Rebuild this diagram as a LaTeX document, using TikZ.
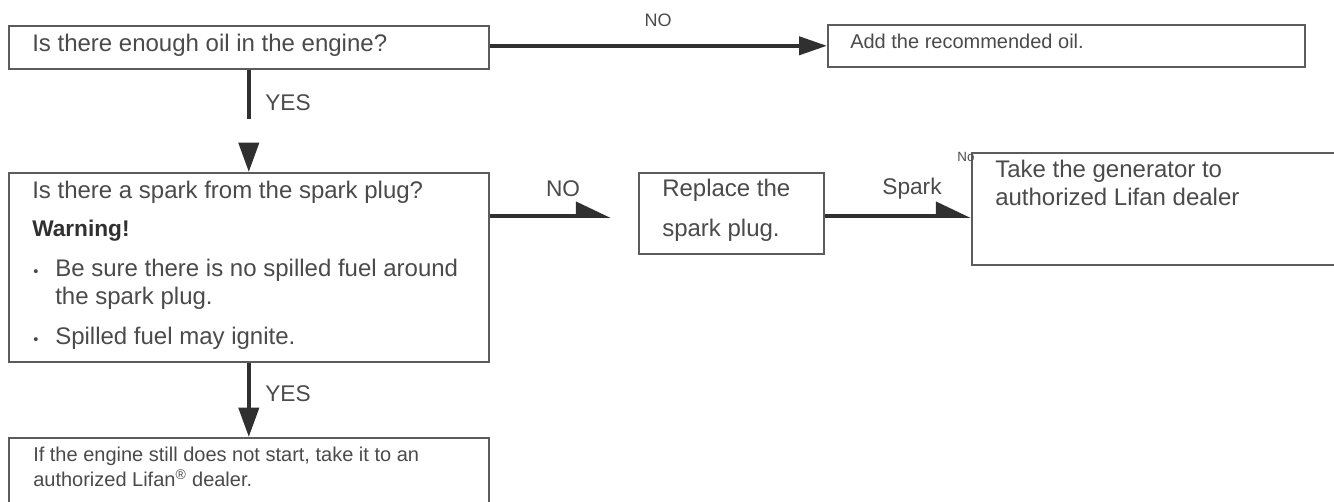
\documentclass[tikz,border=0pt]{standalone}
\usepackage{fontspec}
\setmainfont{Liberation Sans}
\usetikzlibrary{arrows.meta}

\definecolor{boxgray}{HTML}{5C5C5C}
\definecolor{txtgray}{HTML}{4A4A4A}
\definecolor{arrowdark}{HTML}{303030}

\begin{document}
\begin{tikzpicture}[x=0.75pt,y=-0.75pt,
  box/.style={draw=boxgray,line width=1.2pt,anchor=north west,inner sep=0pt},
  txt/.style={anchor=mid west,inner sep=0pt,text=txtgray,font=\fontsize{18}{20}\selectfont},
  smalltxt/.style={txt,font=\fontsize{15}{17}\selectfont},
  dot/.style={txt,font=\fontsize{11}{12}\selectfont},
  lbl/.style={anchor=mid,inner sep=0pt,text=txtgray,font=\fontsize{17}{19}\selectfont},
  flow/.style={draw=arrowdark,line width=3pt},
  downtip/.style={-{Triangle[length=22pt,width=15pt]}},
  sidetip/.style={-{Triangle[length=21pt,width=13.5pt]}},
  half/.style={-{Triangle[harpoon,length=23pt,width=21pt]}}]

\useasboundingbox (0,0) rectangle (1334,502);

% Draw the boxes
\node[box,minimum width=360pt,minimum height=32.25pt] (oil) at (8,25) {};
\node[box,minimum width=357.75pt,minimum height=31.5pt] (addoil) at (827,24) {};
\node[box,minimum width=360pt,minimum height=141.75pt] (spark) at (8,172) {};
\node[box,minimum width=138.75pt,minimum height=60.75pt] (plug) at (638,172) {};
\node[box,minimum width=280.5pt,minimum height=84pt] (dealer) at (971,152) {};
\node[box,minimum width=360pt,minimum height=62.25pt] (start) at (8,437) {};

% Texts in the boxes
\node[txt] (oiltxt) at (32,48) {Is there enough oil in the engine?};
\node[smalltxt] (addtxt) at (850,45) {Add the recommended oil.};
\node[txt] (sparktxt) at (32,195) {Is there a spark from the spark plug?};
\node[txt,text=arrowdark,font=\fontsize{17}{19}\selectfont\bfseries] (warn) at (32,233) {Warning!};
\node[dot] (dota) at (33,273) {\textbullet};
\node[txt] (fuela) at (55,273) {Be sure there is no spilled fuel around};
\node[txt] (fuelb) at (55,301) {the spark plug.};
\node[dot] (dotb) at (33,341) {\textbullet};
\node[txt] (fuelc) at (55,341) {Spilled fuel may ignite.};
\node[txt] (plugtxta) at (662,193) {Replace the};
\node[txt] (plugtxtb) at (662,233) {spark plug.};
\node[txt] (dealtxta) at (995,174) {Take the generator to};
\node[txt] (dealtxtb) at (995,202) {authorized Lifan dealer};
\node[smalltxt] (starttxta) at (33,458) {If the engine still does not start, take it to an};
\node[smalltxt] (starttxtb) at (33,483) {authorized Lifan\textsuperscript{\textregistered} dealer.};

% Draw the connectors
\coordinate (level) at (0,216);
\draw[flow,sidetip] (oil.east |- addoil.west) -- (addoil.west);
\draw[flow,downtip,dash pattern=on 36.75pt off 100pt] (oil.south) -- (spark.north);
\draw[flow,downtip] (spark.south) -- (start.north);
\draw[flow,half,shorten >=20.25pt] (spark.east |- level) -- (plug.west |- level);
\draw[flow,half] (plug.east |- level) -- (dealer.west |- level);

% Labels on the connectors
\node[lbl,font=\fontsize{13.5}{16}\selectfont] (no1) at (658,23) {NO};
\node[lbl,anchor=mid west] (yes1) at (265,107) {YES};
\node[lbl] (no2) at (563,193) {NO};
\node[lbl] (sparklbl) at (912,191) {Spark};
\node[lbl,font=\fontsize{10}{11}\selectfont] (no3) at (966,158) {No};
\node[lbl,anchor=mid west] (yes2) at (265,398) {YES};

\end{tikzpicture}
\end{document}
